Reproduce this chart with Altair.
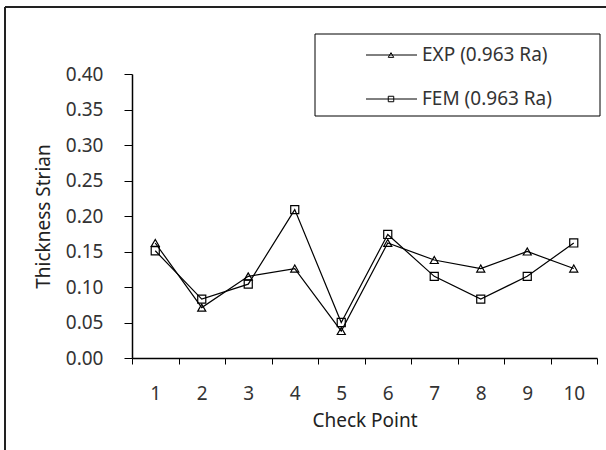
import altair as alt
import pandas as pd

check_points = [1, 2, 3, 4, 5, 6, 7, 8, 9, 10]
exp_values = [0.162, 0.071, 0.115, 0.126, 0.038, 0.162, 0.138, 0.126, 0.150, 0.126]
fem_values = [0.151, 0.083, 0.104, 0.209, 0.050, 0.174, 0.115, 0.083, 0.115, 0.162]
series_names = ["EXP (0.963 Ra)", "FEM (0.963 Ra)"]
series_shapes = ["triangle-up", "square"]
y_ticks = [0.0, 0.05, 0.10, 0.15, 0.20, 0.25, 0.30, 0.35, 0.40]

rows = []
for cp, e, f in zip(check_points, exp_values, fem_values):
    rows.append({"cp": cp, "series": series_names[0], "value": e})
    rows.append({"cp": cp, "series": series_names[1], "value": f})
df = pd.DataFrame(rows)

FONT = "Noto Sans"
FS = 19

x_enc = alt.X(
    "cp:O",
    scale=alt.Scale(type="band", paddingInner=0, paddingOuter=0),
    axis=alt.Axis(
        title="Check Point", labelAngle=0, tickBand="extent", tickSize=6,
        labelPadding=20, titlePadding=8,
    ),
)
y_enc = alt.Y(
    "value:Q",
    scale=alt.Scale(domain=[0, 0.4], nice=False),
    axis=alt.Axis(
        title="Thickness Strian", values=y_ticks, format=".2f", tickSize=8,
        labelPadding=21, titlePadding=12,
    ),
)

base = alt.Chart(df)
lines = base.mark_line(color="black", strokeWidth=1.2).encode(
    x=x_enc, y=y_enc, detail="series:N"
)
points = base.mark_point(filled=False, color="black", strokeWidth=1.2, size=65, opacity=1).encode(
    x=x_enc, y=y_enc,
    shape=alt.Shape("series:N", scale=alt.Scale(domain=series_names, range=series_shapes), legend=None),
)

one = pd.DataFrame({"k": [0]})

# outer frame (left and top edges)
frame_left = alt.Chart(one).mark_rule(color="#222", strokeWidth=2).encode(
    x=alt.value(-127), y=alt.value(-67), y2=alt.value(400)
)
frame_top = alt.Chart(one).mark_rule(color="#222", strokeWidth=2).encode(
    x=alt.value(-127), x2=alt.value(500), y=alt.value(-67)
)

# legend box
legend_box = alt.Chart(one).mark_rect(fill="white", stroke="black", strokeWidth=1).encode(
    x=alt.value(183), x2=alt.value(468), y=alt.value(-40), y2=alt.value(42)
)
legend_layers = [legend_box]
legend_y = [-19, 25]
for name, shape, ly in zip(series_names, series_shapes, legend_y):
    d = pd.DataFrame({"label": [name]})
    legend_layers.append(
        alt.Chart(d).mark_rule(color="black", strokeWidth=1).encode(
            x=alt.value(234), x2=alt.value(285), y=alt.value(ly)
        )
    )
    legend_layers.append(
        alt.Chart(d).mark_point(filled=False, color="black", strokeWidth=1, size=30, shape=shape, opacity=1).encode(
            x=alt.value(259), y=alt.value(ly)
        )
    )
    legend_layers.append(
        alt.Chart(d).mark_text(align="left", baseline="middle", font=FONT, fontSize=FS, color="#333").encode(
            text="label:N", x=alt.value(290), y=alt.value(ly)
        )
    )

chart = alt.layer(frame_left, frame_top, lines, points, *legend_layers).properties(
    width=465, height=284,
    background="white",
    autosize=alt.AutoSizeParams(type="none"),
    padding={"left": 132, "top": 74, "right": 9, "bottom": 92},
).configure_view(stroke=None).configure_axis(
    grid=False, domainColor="black", domainWidth=1.5, tickColor="black", tickWidth=1,
    labelFont=FONT, labelFontSize=FS, labelColor="#333",
    titleFont=FONT, titleFontSize=FS, titleFontWeight="normal", titleColor="#222",
)

chart.save("out.html", embed_options={"renderer": "svg", "actions": False})
